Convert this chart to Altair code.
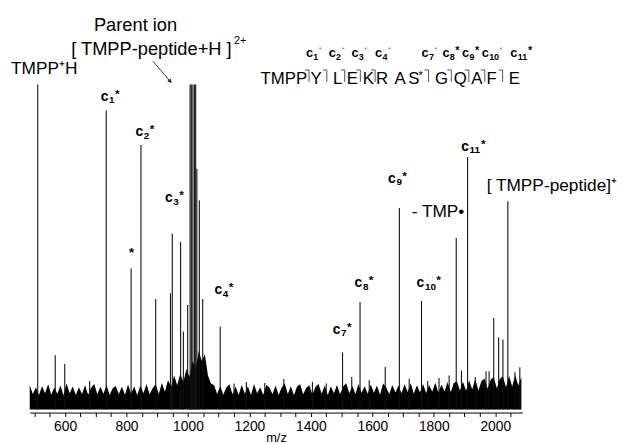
import altair as alt
import pandas as pd

# ---------------- data ----------------
peak_mz = [511, 568, 599, 680, 734, 815, 847, 895, 943, 949, 976, 985, 999,
           1007, 1011, 1016, 1021, 1025, 1029, 1037, 1048, 1105, 1150, 1190, 1250, 1312, 1405, 1450,
           1503, 1533, 1560, 1590, 1642, 1688, 1720, 1760, 1780, 1817, 1850, 1873, 1890, 1910,
           1935, 1970, 1980, 1995, 2011, 2025, 2041, 2064, 2080]
peak_int = [100, 16.7, 14.0, 8.8, 92.0, 43.4, 81.4, 34.0, 35.8, 54.1, 51.6, 24.0, 32.2,
            100, 100, 100, 100, 100, 74.1, 64.4, 34.0, 25.5, 8.0, 8.5, 8.2, 9.4, 8.5, 8.0,
            17.6, 10.0, 33.1, 9.0, 13.1, 62.0, 9.5, 33.4, 8.8, 9.7, 10.5, 52.8, 12.0, 77.7,
            10.0, 11.8, 11.8, 28.2, 22.2, 21.6, 64.1, 11.5, 13.0]

noise_mz = list(range(485, 2086, 10))
noise_int = [
    7.6, 4.8, 6.9, 4.5, 7.2, 5.0, 7.8, 4.6, 6.8, 4.9,
    7.4, 4.4, 8.0, 5.0, 7.1, 4.5, 6.9, 4.8, 7.5, 4.6,
    6.8, 7.9, 4.7, 7.0, 4.9, 7.6, 4.5, 6.6, 7.3, 4.8,
    7.0, 4.6, 7.7, 4.9, 7.2, 4.4, 7.4, 5.0, 7.9, 4.7,
    6.6, 7.8, 4.8, 8.2, 5.5, 9.0, 7.0, 10.5, 7.5, 11.0,
    8.5, 12.5, 10.0, 15.0, 12.5, 18.0, 15.0, 17.0, 10.5, 8.0,
    7.5, 4.8, 7.3, 4.6, 6.9, 7.8, 4.7, 7.1, 4.5, 7.6,
    4.9, 7.2, 4.5, 7.9, 5.0, 6.9, 4.6, 7.6, 6.8, 4.7,
    7.4, 4.5, 6.8, 8.0, 4.8, 7.2, 4.4, 7.1, 7.8, 4.7,
    6.7, 7.5, 4.6, 7.0, 7.9, 4.9, 7.4, 4.5, 7.2, 5.0,
    7.6, 4.7, 7.1, 8.1, 5.0, 7.3, 4.8, 7.9, 5.2, 7.2,
    4.9, 7.7, 5.1, 7.4, 4.6, 8.0, 6.9, 4.8, 7.6, 5.3,
    7.4, 5.0, 7.8, 5.4, 8.1, 4.9, 7.5, 5.3, 7.9, 5.1,
    7.6, 5.5, 8.3, 5.2, 7.7, 5.6, 8.5, 5.4, 8.1, 8.8,
    5.9, 8.6, 5.8, 9.0, 6.2, 9.4, 5.9, 8.7, 9.6, 6.4,
    9.2, 10.0, 6.6, 9.5, 10.2, 6.9, 10.4, 7.1, 10.6, 7.4,
    10.0,
]

tick_values = list(range(500, 2051, 50))

# annotations (in data units: m/z, relative intensity)
large_text = ["Parent ion", "[ TMPP-peptide+H ]"]
large_mz = [694, 620]
large_int = [118.4, 110.8]
mid_text = ["TMPP\u207aH", "- TMP\u2022", "[ TMPP-peptide]\u207a"]
mid_mz = [424, 1728, 1972]
mid_int = [104.8, 60.7, 68.9]
charge_text = ["2+"]
charge_mz = [1150]
charge_int = [113.3]

lone_star_mz = [816]
lone_star_int = [48.3]

ion_num = ["1", "2", "3", "4", "7", "8", "9", "10", "11"]
ion_mz = [716, 829, 925, 1086, 1471, 1542, 1651, 1744, 1889]
ion_int = [95.0, 84.1, 63.8, 35.5, 23.4, 37.7, 69.8, 37.7, 79.6]

seq_head = ["TMPP"]
seq_head_mz = [1388]
seq_letters = ["Y", "L", "E", "K", "R", "A", "S", "G", "Q", "A", "F", "E"]
seq_mz = [1417, 1487, 1535, 1587, 1632, 1690, 1735, 1825, 1886, 1940, 1988, 2062]
seq_base = 100.2
seq_star_mz = [1757]
cleave_mz = [1394, 1452, 1510, 1561, 1609, 1783, 1857, 1914, 1966, 2024]
cleave_top = 104.5
cleave_bottom = 100.8
seq_ion_num = ["1", "2", "3", "4", "7", "8", "9", "10", "11"]
seq_ion_mark = ["faint", "faint", "faint", "faint", "faint", "star", "star", "faint", "star"]
seq_ion_mz = [1384, 1458, 1532, 1609, 1760, 1828, 1892, 1956, 2049]
seq_ion_base = 108.4

arrow_from = (886, 107.2)
arrow_to = (941, 101.1)

# ---------------- chart ----------------
FONT = "Liberation Sans"
X = alt.X("mz:Q",
          scale=alt.Scale(domain=[485, 2088], nice=False, zero=False),
          axis=alt.Axis(values=tick_values, format="d",
                        labelExpr="datum.value % 200 == 0 ? datum.label : ''",
                        title="m/z", grid=False, tickSize=4, domainColor="black",
                        tickColor="black", labelColor="black", labelFont=FONT,
                        labelFontSize=14, labelPadding=3, titleFont=FONT,
                        titleFontSize=13, titleFontWeight="normal", titleColor="black",
                        titleY=25, titleBaseline="middle", labelFlush=False,
                        labelOverlap=False))
Y = alt.Y("v:Q", scale=alt.Scale(domain=[-0.91, 122.7], nice=False, zero=False), axis=None)

peaks = pd.DataFrame({"mz": peak_mz, "v": peak_int})
peaks["v0"] = 0.0
noise = pd.DataFrame({"mz": noise_mz, "v": noise_int})
noise["v0"] = 0.0

noise_layer = alt.Chart(noise).mark_area(color="black", interpolate="linear").encode(
    x=X, y=Y, y2=alt.Y2("v0:Q"))
peak_layer = alt.Chart(peaks).mark_rule(color="#111", strokeWidth=1.1).encode(
    x=X, y=Y, y2=alt.Y2("v0:Q"))


def texts(df, **kw):
    base = dict(font=FONT, color="black")
    base.update(kw)
    return alt.Chart(df).mark_text(**base).encode(x=X, y=Y, text="t:N")


large_df = pd.DataFrame({"mz": large_mz, "v": large_int, "t": large_text})
mid_df = pd.DataFrame({"mz": mid_mz, "v": mid_int, "t": mid_text})
charge_df = pd.DataFrame({"mz": charge_mz, "v": charge_int, "t": charge_text})
lone_df = pd.DataFrame({"mz": lone_star_mz, "v": lone_star_int, "t": ["*"]})

ion_df = pd.DataFrame({"mz": ion_mz, "v": ion_int, "t": ["c"] * len(ion_mz)})
ion_sub = pd.DataFrame({"mz": ion_mz, "v": ion_int, "t": ion_num})
ion_star1 = pd.DataFrame({"mz": [m for m, n in zip(ion_mz, ion_num) if len(n) == 1],
                          "v": [v for v, n in zip(ion_int, ion_num) if len(n) == 1]})
ion_star1["t"] = "*"
ion_star2 = pd.DataFrame({"mz": [m for m, n in zip(ion_mz, ion_num) if len(n) == 2],
                          "v": [v for v, n in zip(ion_int, ion_num) if len(n) == 2]})
ion_star2["t"] = "*"

head_df = pd.DataFrame({"mz": seq_head_mz, "v": [seq_base], "t": seq_head})
letters_df = pd.DataFrame({"mz": seq_mz, "v": [seq_base] * len(seq_mz), "t": seq_letters})
sstar_df = pd.DataFrame({"mz": seq_star_mz, "v": [seq_base], "t": ["*"]})

brk_v = pd.DataFrame({"mz": cleave_mz, "v": [cleave_top] * len(cleave_mz),
                      "v0": [cleave_bottom] * len(cleave_mz)})
brk_h = pd.DataFrame({"mz": [m - 13 for m in cleave_mz], "mz2": cleave_mz,
                      "v": [cleave_top] * len(cleave_mz)})

sion_c = pd.DataFrame({"mz": seq_ion_mz, "v": [seq_ion_base] * len(seq_ion_mz),
                       "t": ["c"] * len(seq_ion_mz)})
sion_sub = pd.DataFrame({"mz": seq_ion_mz, "v": [seq_ion_base] * len(seq_ion_mz), "t": seq_ion_num})
sion_mark = pd.DataFrame({"mz": seq_ion_mz, "v": [seq_ion_base] * len(seq_ion_mz),
                          "n": seq_ion_num, "k": seq_ion_mark})


def seq_mark(kind, ndig, **kw):
    base = dict(font=FONT, align="left", baseline="alphabetic")
    base.update(kw)
    return (alt.Chart(sion_mark)
            .transform_filter(f"datum.k == '{kind}' && length(datum.n) == {ndig}")
            .transform_calculate(t="'*'")
            .mark_text(**base).encode(x=X, y=Y, text="t:N"))


layers = [
    noise_layer,
    peak_layer,
    texts(large_df, fontSize=18.5, align="left", baseline="middle"),
    texts(mid_df, fontSize=17.5, align="left", baseline="middle"),
    texts(charge_df, fontSize=11, align="left", baseline="middle"),
    texts(lone_df, fontSize=13, fontWeight="bold", align="center", baseline="middle"),
    texts(ion_df, fontSize=14, fontWeight="bold", align="left", baseline="alphabetic"),
    texts(ion_sub, fontSize=10, fontWeight="bold", align="left", baseline="alphabetic", dx=8.5, dy=2.5),
    texts(ion_star1, fontSize=12, fontWeight="bold", align="left", baseline="alphabetic", dx=14.5, dy=-3),
    texts(ion_star2, fontSize=12, fontWeight="bold", align="left", baseline="alphabetic", dx=20, dy=-3),
    texts(head_df, fontSize=17, align="right", baseline="alphabetic"),
    texts(letters_df, fontSize=17, align="center", baseline="alphabetic"),
    texts(sstar_df, fontSize=11, align="center", baseline="alphabetic", dy=-5),
    alt.Chart(brk_v).mark_rule(color="#555", strokeWidth=1).encode(x=X, y=Y, y2=alt.Y2("v0:Q")),
    alt.Chart(brk_h).mark_rule(color="#555", strokeWidth=1).encode(x=X, x2=alt.X2("mz2:Q"), y=Y),
    texts(sion_c, fontSize=13, fontWeight="bold", align="left", baseline="alphabetic"),
    texts(sion_sub, fontSize=9, fontWeight="bold", align="left", baseline="alphabetic", dx=7.5, dy=2.5),
    seq_mark("star", 1, fontSize=11, fontWeight="bold", color="black", dx=13, dy=-3),
    seq_mark("star", 2, fontSize=11, fontWeight="bold", color="black", dx=18, dy=-3),
    seq_mark("faint", 1, fontSize=8, color="#888", dx=13, dy=-5),
    seq_mark("faint", 2, fontSize=8, color="#888", dx=18, dy=-5),
    alt.Chart(pd.DataFrame({"mz": [arrow_from[0]], "mz2": [arrow_to[0]],
                            "v": [arrow_from[1]], "v2": [arrow_to[1]]})).mark_rule(
        color="#333", strokeWidth=1).encode(x=X, x2=alt.X2("mz2:Q"), y=Y, y2=alt.Y2("v2:Q")),
    alt.Chart(pd.DataFrame({"mz": [arrow_to[0]], "v": [arrow_to[1]]})).mark_point(
        shape="triangle", filled=True, color="#222", size=22, angle=138, opacity=1).encode(x=X, y=Y),
]

chart = alt.layer(*layers).properties(
    width=499, height=407,
    padding={"left": 22, "top": 0, "right": 100, "bottom": 29},
    autosize=alt.AutoSizeParams(type="none"),
    background="white",
).configure_view(stroke=None)

chart.save("out.html", embed_options={"renderer": "svg", "actions": False})
